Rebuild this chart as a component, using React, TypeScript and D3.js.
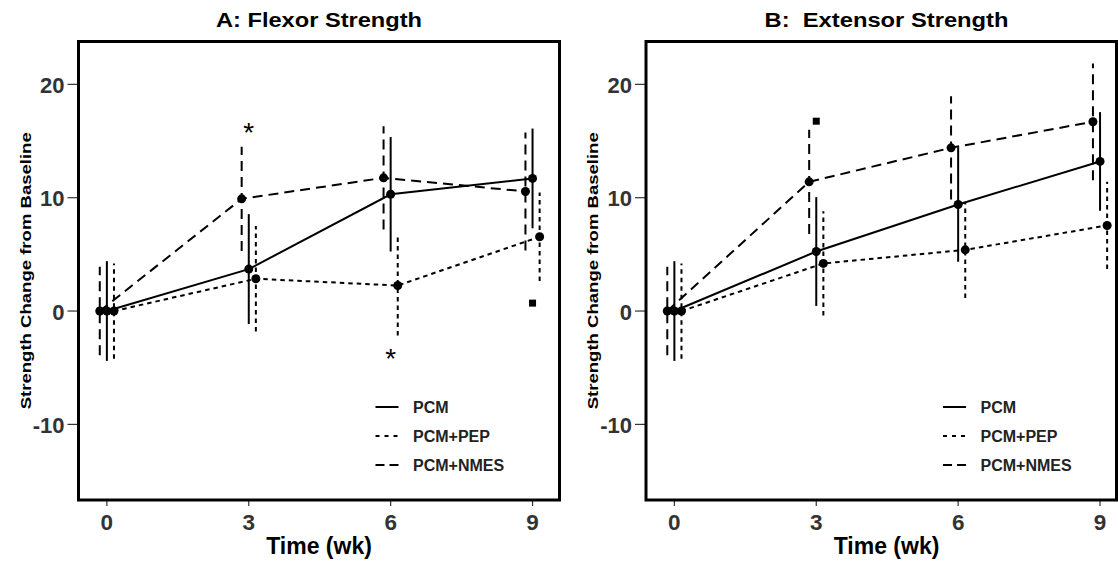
import React, { useEffect, useRef } from 'react'
import * as d3 from 'd3'

const weeks = [0, 3, 6, 9]
const groups = ['PCM', 'PCM+PEP', 'PCM+NMES']
const yTicks = [-10, 0, 10, 20]

// A: flexor (mean change, error half-width)
const flexorPCM = [0, 3.7, 10.3, 11.7]
const flexorPCMErr = [4.4, 4.85, 5.05, 4.4]
const flexorPEP = [0, 2.85, 2.25, 6.55]
const flexorPEPErr = [4.2, 4.65, 4.4, 3.9]
const flexorNMES = [0, 9.9, 11.75, 10.55]
const flexorNMESErr = [3.9, 4.6, 4.55, 5.2]

// B: extensor
const extensorPCM = [0, 5.25, 9.4, 13.2]
const extensorPCMErr = [4.4, 4.8, 5.05, 4.35]
const extensorPEP = [0, 4.2, 5.4, 7.55]
const extensorPEPErr = [4.2, 4.6, 4.25, 3.85]
const extensorNMES = [0, 11.4, 14.4, 16.7]
const extensorNMESErr = [3.9, 4.6, 4.55, 5.15]

// significance marks
const flexorStars = [{ week: 3, y: 16.3 }, { week: 6, y: -3.6 }]
const flexorSquares = [{ week: 9, y: 0.7 }]
const extensorStars: { week: number; y: number }[] = []
const extensorSquares = [{ week: 3, y: 16.75 }]

const dodge = [0, 0.15, -0.15]
const dashes = ['none', '4.5,4', '10,6']

const panels = [
  {
    title: 'A: Flexor Strength',
    titleLen: 206,
    offset: 0,
    boxW: 481,
    means: [flexorPCM, flexorPEP, flexorNMES],
    errs: [flexorPCMErr, flexorPEPErr, flexorNMESErr],
    stars: flexorStars,
    squares: flexorSquares,
  },
  {
    title: 'B:  Extensor Strength',
    titleLen: 244,
    offset: 567.5,
    boxW: 470.5,
    means: [extensorPCM, extensorPEP, extensorNMES],
    errs: [extensorPCMErr, extensorPEPErr, extensorNMESErr],
    stars: extensorStars,
    squares: extensorSquares,
  },
]

const width = 1118
const height = 566
const left = 78.5
const top = 41.5
const bottom = 500
const font = "'Liberation Sans', Arial, sans-serif"

const App = () => {
  const svgRef = useRef<SVGSVGElement>(null)

  useEffect(() => {
    const svg = d3.select(svgRef.current)
    svg.selectAll('*').remove()

    const x = d3.scaleLinear().domain([-0.6, 9.57]).range([left, left + 481])
    const y = d3.scaleLinear().domain([-16.67, 23.78]).range([bottom, top])

    panels.forEach((p) => {
      const g = svg.append('g').attr('transform', `translate(${p.offset},0)`)

      // title
      g.append('text')
        .attr('x', left + 240.5)
        .attr('y', 27)
        .attr('text-anchor', 'middle')
        .attr('font-size', 20)
        .attr('font-weight', 'bold')
        .attr('textLength', p.titleLen)
        .attr('lengthAdjust', 'spacingAndGlyphs')
        .style('white-space', 'pre')
        .text(p.title)

      // y axis title
      g.append('text')
        .attr('transform', `translate(${left - 53},${(top + bottom) / 2}) rotate(-90)`)
        .attr('text-anchor', 'middle')
        .attr('dy', '0.35em')
        .attr('font-size', 15.5)
        .attr('font-weight', 'bold')
        .attr('textLength', 277)
        .attr('lengthAdjust', 'spacingAndGlyphs')
        .text('Strength Change from Baseline')

      // x axis title
      g.append('text')
        .attr('x', left + 240.5)
        .attr('y', 554)
        .attr('text-anchor', 'middle')
        .attr('font-size', 23)
        .attr('font-weight', 'bold')
        .text('Time (wk)')

      // ticks
      g.selectAll('.ytick')
        .data(yTicks)
        .join('line')
        .attr('x1', left - 11)
        .attr('x2', left)
        .attr('y1', (d) => y(d))
        .attr('y2', (d) => y(d))
        .attr('stroke', '#333')
        .attr('stroke-width', 1.2)
      g.selectAll('.ylab')
        .data(yTicks)
        .join('text')
        .attr('x', left - 14)
        .attr('y', (d) => y(d) + 8.5)
        .attr('text-anchor', 'end')
        .attr('font-size', 22)
        .attr('font-weight', 'bold')
        .attr('fill', '#333')
        .text((d) => d)
      g.selectAll('.xtick')
        .data(weeks)
        .join('line')
        .attr('x1', (d) => x(d))
        .attr('x2', (d) => x(d))
        .attr('y1', bottom)
        .attr('y2', bottom + 6)
        .attr('stroke', '#333')
        .attr('stroke-width', 1.2)
      g.selectAll('.xlab')
        .data(weeks)
        .join('text')
        .attr('x', (d) => x(d))
        .attr('y', 530)
        .attr('text-anchor', 'middle')
        .attr('font-size', 22.5)
        .attr('font-weight', 'bold')
        .attr('fill', '#333')
        .text((d) => d)

      // series
      groups.forEach((name, gi) => {
        const pts = weeks.map((w, i) => ({
          x: w + dodge[gi],
          m: p.means[gi][i],
          e: p.errs[gi][i],
        }))
        const line = d3
          .line<{ x: number; m: number }>()
          .x((d) => x(d.x))
          .y((d) => y(d.m))
        g.append('path')
          .attr('d', line(pts))
          .attr('fill', 'none')
          .attr('stroke', '#000')
          .attr('stroke-width', 2)
          .attr('stroke-dasharray', dashes[gi])
        g.append('g')
          .selectAll('line')
          .data(pts)
          .join('line')
          .attr('x1', (d) => x(d.x))
          .attr('x2', (d) => x(d.x))
          .attr('y1', (d) => y(d.m - d.e))
          .attr('y2', (d) => y(d.m + d.e))
          .attr('stroke', '#000')
          .attr('stroke-width', 2)
          .attr('stroke-dasharray', dashes[gi])
        g.append('g')
          .selectAll('circle')
          .data(pts)
          .join('circle')
          .attr('cx', (d) => x(d.x))
          .attr('cy', (d) => y(d.m))
          .attr('r', 4.5)
          .attr('fill', '#000')
      })

      // significance marks
      g.selectAll('.star')
        .data(p.stars)
        .join('text')
        .attr('x', (d) => x(d.week))
        .attr('y', (d) => y(d.y) + 16)
        .attr('text-anchor', 'middle')
        .attr('font-size', 28)
        .text('*')
      g.selectAll('.sq')
        .data(p.squares)
        .join('rect')
        .attr('x', (d) => x(d.week) - 3.5)
        .attr('y', (d) => y(d.y) - 3.5)
        .attr('width', 7)
        .attr('height', 7)
        .attr('fill', '#000')

      // legend
      const leg = g.append('g').attr('transform', `translate(${left + 297},407)`)
      groups.forEach((name, gi) => {
        leg.append('line')
          .attr('x1', 0)
          .attr('x2', 23)
          .attr('y1', gi * 29)
          .attr('y2', gi * 29)
          .attr('stroke', '#000')
          .attr('stroke-width', 2)
          .attr('stroke-dasharray', gi === 1 ? '4,5' : gi === 2 ? '9,5' : 'none')
        leg.append('text')
          .attr('x', 37.5)
          .attr('y', gi * 29 + 6)
          .attr('font-size', 16)
          .attr('font-weight', 'bold')
          .attr('fill', '#222')
          .text(name)
      })

      // panel border
      g.append('rect')
        .attr('x', left)
        .attr('y', top)
        .attr('width', p.boxW)
        .attr('height', bottom - top)
        .attr('fill', 'none')
        .attr('stroke', '#000')
        .attr('stroke-width', 3)
    })
  }, [])

  return (
    <svg
      ref={svgRef}
      width={width}
      height={height}
      style={{ position: 'absolute', left: 0, top: 0, background: '#fff', fontFamily: font }}
    ></svg>
  )
}

export default App
